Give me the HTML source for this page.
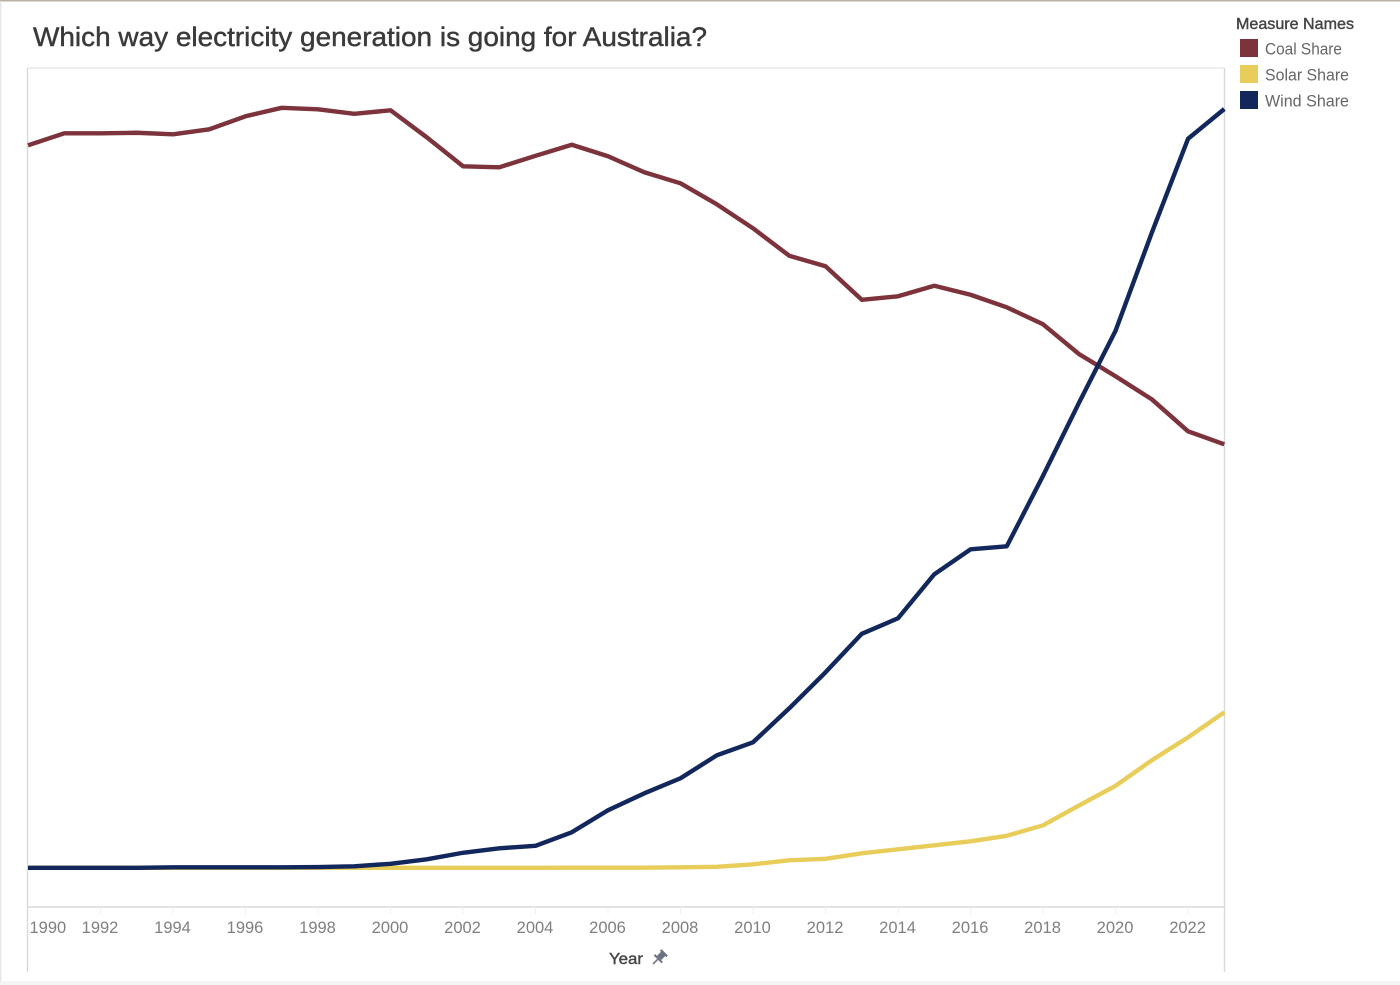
<!DOCTYPE html>
<html lang="en">
<head>
<meta charset="utf-8">
<title>Which way electricity generation is going for Australia?</title>
<style>
html,body{margin:0;padding:0;background:#fff;}
body{width:1400px;height:985px;overflow:hidden;position:relative;font-family:"Liberation Sans",sans-serif;}
svg{position:absolute;left:0;top:0;display:block;}
text{font-family:"Liberation Sans",sans-serif;}
</style>
</head>
<body>
<svg id="chart" width="1400" height="985" viewBox="0 0 1400 985" xmlns="http://www.w3.org/2000/svg">
  <rect x="0" y="0" width="1400" height="1.5" fill="#b9b2a3"/>
  <rect x="0" y="1" width="1.5" height="980" fill="#e8e8e8"/>
  <rect x="0" y="981" width="1400" height="4" fill="#f5f5f5"/>

  <text x="33" y="46" font-size="27" fill="#3a3a3a" stroke="#3a3a3a" stroke-width="0.45" textLength="674" lengthAdjust="spacingAndGlyphs">Which way electricity generation is going for Australia?</text>

  <g id="frame" fill="none" stroke="#d9d9d9" stroke-width="1.4">
    <line x1="27.5" y1="68" x2="1224.5" y2="68" stroke="#e8e8e8"/>
    <line x1="27.5" y1="68" x2="27.5" y2="972"/>
    <line x1="1224.5" y1="68" x2="1224.5" y2="972"/>
    <line x1="27.5" y1="907" x2="1224.5" y2="907"/>
  </g>

  <g id="ticks"></g>
  <g id="series"></g>

  <text x="609" y="964" font-size="16" fill="#444" stroke="#444" stroke-width="0.4" textLength="34" lengthAdjust="spacingAndGlyphs">Year</text>
  <g transform="translate(659 958) rotate(45)" fill="#6b7380">
    <rect x="-4.5" y="-8" width="9" height="2.2"/>
    <rect x="-3" y="-6" width="6" height="6"/>
    <polygon points="-5.5,0 5.5,0 5.5,2 -5.5,2"/>
    <rect x="-0.8" y="2" width="1.6" height="6.5"/>
  </g>

  <g>
    <text x="1236" y="29" font-size="16" fill="#444" stroke="#444" stroke-width="0.4" textLength="118" lengthAdjust="spacingAndGlyphs">Measure Names</text>
    <g>
      <rect x="1240" y="39" width="18" height="18" fill="#7d333b"/>
      <text x="1265" y="54.500" font-size="16.500" fill="#666" textLength="77" lengthAdjust="spacingAndGlyphs">Coal Share</text>
    </g>
    <g>
      <rect x="1240" y="65" width="18" height="18" fill="#e9cd5a"/>
      <text x="1265" y="80.500" font-size="16.500" fill="#666" textLength="84" lengthAdjust="spacingAndGlyphs">Solar Share</text>
    </g>
    <g>
      <rect x="1240" y="91" width="18" height="18" fill="#12275c"/>
      <text x="1265" y="106.500" font-size="16.500" fill="#666" textLength="84" lengthAdjust="spacingAndGlyphs">Wind Share</text>
    </g>
  </g>
</svg>
<script>
// Chart data: the original hides its y-axis, so values are read as an index (0-100) of plot height.
var years = [1990,1991,1992,1993,1994,1995,1996,1997,1998,1999,2000,2001,2002,2003,2004,2005,2006,2007,2008,2009,2010,2011,2012,2013,2014,2015,2016,2017,2018,2019,2020,2021,2022,2023];
var tickYears = [1990,1992,1994,1996,1998,2000,2002,2004,2006,2008,2010,2012,2014,2016,2018,2020,2022];
var coalShare = [90.31,91.81,91.81,91.88,91.69,92.31,93.94,95.0,94.81,94.25,94.69,91.31,87.69,87.56,89.0,90.38,88.94,86.94,85.56,82.94,79.94,76.5,75.19,71.0,71.44,72.75,71.63,70.06,67.94,64.19,61.44,58.56,54.56,52.94];
var solarShare = [0,0,0,0,0,0,0,0,0,0,0,0,0,0,0,0.02,0.02,0.02,0.06,0.12,0.44,0.94,1.12,1.81,2.31,2.81,3.31,4.0,5.31,7.81,10.25,13.44,16.31,19.44];
var windShare = [0,0,0,0,0.06,0.06,0.06,0.06,0.09,0.19,0.5,1.06,1.88,2.44,2.75,4.44,7.19,9.31,11.19,14.06,15.69,19.94,24.44,29.25,31.19,36.69,39.81,40.19,49.0,58.2,67.13,79.38,91.13,94.85];

var NS = 'http://www.w3.org/2000/svg';
function xScale(year){ return 28 + (year - 1990) * (1224.3 - 28) / (2023 - 1990); }
function yScale(value){ return 867.8 - value * 8; }

function drawLine(values, color, name){
  var d = '';
  for (var i = 0; i < years.length; i++) {
    d += (i ? 'L' : 'M') + xScale(years[i]).toFixed(2) + ' ' + yScale(values[i]).toFixed(2);
  }
  var p = document.createElementNS(NS, 'path');
  p.setAttribute('d', d);
  p.setAttribute('fill', 'none');
  p.setAttribute('stroke', color);
  p.setAttribute('stroke-width', '4.4');
  p.setAttribute('stroke-linejoin', 'round');
  
  
  document.getElementById('series').appendChild(p);
}
drawLine(coalShare, '#7d333b', 'coal-share-line');
drawLine(solarShare, '#e9cd5a', 'solar-share-line');
drawLine(windShare, '#12275c', 'wind-share-line');

var tickGroup = document.getElementById('ticks');
tickYears.forEach(function(year, i){
  var x = xScale(year);
  if (i > 0) {
    var t = document.createElementNS(NS, 'line');
    t.setAttribute('x1', x);
    t.setAttribute('x2', x);
    t.setAttribute('y1', 907);
    t.setAttribute('y2', 914);
    t.setAttribute('stroke', '#f0f0f0');
    
    
    tickGroup.appendChild(t);
  }
  var label = document.createElementNS(NS, 'text');
  // The first label is nudged right so it stays inside the plot, as in the original.
  label.setAttribute('x', i === 0 ? 29.5 : x - 0.5);
  label.setAttribute('y', 933);
  label.setAttribute('font-size', '16.5');
  label.setAttribute('fill', '#808080');
  label.setAttribute('text-anchor', i === 0 ? 'start' : 'middle');
  
  
  label.textContent = year;
  tickGroup.appendChild(label);
});
</script>
</body>
</html>
